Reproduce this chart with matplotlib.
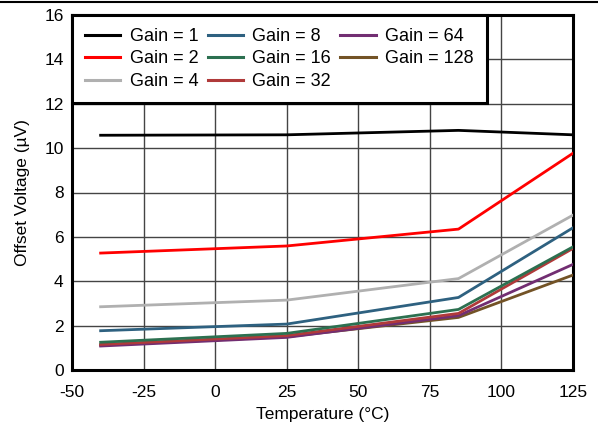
import numpy as np
import matplotlib.pyplot as plt
from matplotlib.lines import Line2D

plt.rcParams['font.family'] = ['Liberation Sans', 'DejaVu Sans']
plt.rcParams['axes.unicode_minus'] = False

# temperatures (deg C) where offset was measured
temps = [-40, 25, 85, 125]

gain_labels = ['Gain = 1', 'Gain = 2', 'Gain = 4', 'Gain = 8',
               'Gain = 16', 'Gain = 32', 'Gain = 64', 'Gain = 128']

# offset voltage (uV) per gain
gain1 = [10.58, 10.6, 10.8, 10.6]
gain2 = [5.27, 5.59, 6.35, 9.77]
gain4 = [2.85, 3.15, 4.12, 6.98]
gain8 = [1.77, 2.07, 3.27, 6.41]
gain16 = [1.25, 1.65, 2.73, 5.55]
gain32 = [1.15, 1.55, 2.55, 5.48]
gain64 = [1.08, 1.47, 2.45, 4.76]
gain128 = [1.12, 1.5, 2.37, 4.28]

series = [gain1, gain2, gain4, gain8, gain16, gain32, gain64, gain128]
colors = ['#000000', '#ff0000', '#b0b0b0', '#2e6180',
          '#2c7050', '#b03a3a', '#722e72', '#735326']

fig = plt.figure(figsize=(5.98, 4.26), dpi=100)
ax = fig.add_axes([72/598, 1 - 370/426, (573-72)/598, (370-15)/426])

# draw in reverse so gain 1 ends on top
for ys, c, lab in reversed(list(zip(series, colors, gain_labels))):
    ax.plot(temps, ys, color=c, lw=2, label=lab, zorder=3)

ax.set_xlim(-50, 125)
ax.set_ylim(0, 16)
ax.set_xticks(np.arange(-50, 126, 25))
ax.set_yticks(np.arange(0, 17, 2))
ax.grid(True, color='#444444', lw=1, zorder=0)
ax.tick_params(length=0, labelsize=12.5)
ax.tick_params(axis='x', pad=11)
ax.tick_params(axis='y', pad=6)
for sp in ax.spines.values():
    sp.set_linewidth(2.2)

ax.set_xlabel('Temperature (°C)', fontsize=12.5, labelpad=5)
ax.set_ylabel('Offset Voltage (µV)', fontsize=12.5, labelpad=10)

handles = [Line2D([0], [0], color=c, lw=2.2) for c in colors]
leg = ax.legend(handles, gain_labels, ncol=3, loc='upper left',
                bbox_to_anchor=(0, 1), borderaxespad=0, fontsize=13,
                frameon=True, fancybox=False, handlelength=1.95,
                handletextpad=0.52, columnspacing=0.52, labelspacing=0.3,
                borderpad=0.72)
leg.get_frame().set_edgecolor('black')
leg.get_frame().set_linewidth(2.2)
leg.get_frame().set_alpha(1)
leg.set_zorder(5)

fig.add_artist(Line2D([0, 1], [1 - 2/426, 1 - 2/426], color='black',
                      lw=1.5, transform=fig.transFigure, zorder=10))

fig.savefig('out.png', dpi=100)
